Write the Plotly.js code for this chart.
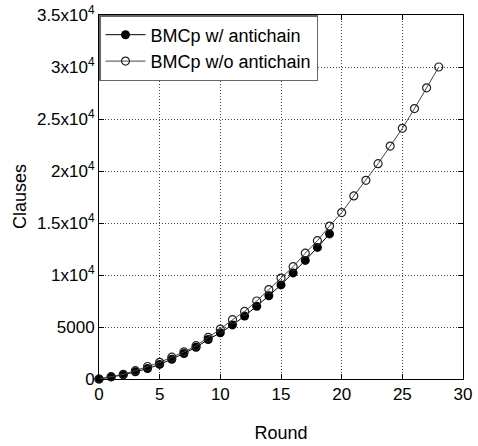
<!DOCTYPE html>
<html><head><meta charset="utf-8">
<script src="https://cdn.plot.ly/plotly-3.0.1.min.js"></script>
<style>html,body{margin:0;padding:0;background:#fff}#chart{width:478px;height:446px}</style>
</head><body><div id="chart"></div>
<script>
var roundsWith = [0,1,2,3,4,5,6,7,8,9,10,11,12,13,14,15,16,17,18,19];
var clausesWith = [0,200,400,700,1000,1400,1900,2450,3050,3800,4450,5200,6050,7000,8000,9050,10200,11400,12650,13950];
var roundsWithout = [0,1,2,3,4,5,6,7,8,9,10,11,12,13,14,15,16,17,18,19,20,21,22,23,24,25,26,27,28];
var clausesWithout = [0,220,450,800,1200,1600,2100,2600,3200,4000,4800,5700,6500,7500,8600,9700,10800,12100,13300,14700,16000,17600,19100,20700,22400,24100,26000,28000,30000];
var yTickVals = [0,5000,10000,15000,20000,25000,30000,35000];
var yTickText = ['0','5000','1x10<sup>4</sup>','1.5x10<sup>4</sup>','2x10<sup>4</sup>','2.5x10<sup>4</sup>','3x10<sup>4</sup>','3.5x10<sup>4</sup>'];
var xTickVals = [0,5,10,15,20,25,30];
var seriesNames = ['BMCp w/ antichain','BMCp w/o antichain'];
var xTitle = 'Round';
var yTitle = 'Clauses';

var font = 'Liberation Sans, Arial, sans-serif';
var traces = [
  {x: roundsWith, y: clausesWith, name: seriesNames[0], mode: 'lines+markers',
   line: {color: '#000', width: 1}, marker: {symbol: 'circle', size: 9, color: '#000'}, cliponaxis: false},
  {x: roundsWithout, y: clausesWithout, name: seriesNames[1], mode: 'lines+markers',
   line: {color: '#444', width: 1}, marker: {symbol: 'circle-open', size: 8, color: '#222', line: {width: 1.2}}, cliponaxis: false}
];
var layout = {
  width: 478, height: 446,
  margin: {l: 99, r: 15, t: 15, b: 67},
  paper_bgcolor: '#fff', plot_bgcolor: '#fff',
  font: {family: font, color: '#000', size: 17},
  showlegend: true,
  legend: {x: 0, y: 1, xanchor: 'left', yanchor: 'top', bgcolor: '#fff', bordercolor: '#666', borderwidth: 1.5,
           font: {family: font, size: 18}, tracegroupgap: 0, itemwidth: 40},
  xaxis: {range: [0, 30], tickvals: xTickVals, ticks: 'inside', ticklen: 5, tickcolor: '#000',
          showline: true, linecolor: '#000', linewidth: 1, mirror: 'ticks',
          showgrid: true, gridcolor: '#444', griddash: '1px,2px', gridwidth: 1, zeroline: false,
          tickfont: {size: 17}, title: {text: xTitle, font: {size: 18}, standoff: 22}},
  yaxis: {range: [0, 35000], tickvals: yTickVals, ticktext: yTickText, ticks: 'inside', ticklen: 5, tickcolor: '#000',
          showline: true, linecolor: '#000', linewidth: 1, mirror: 'ticks',
          showgrid: true, gridcolor: '#444', griddash: '1px,2px', gridwidth: 1, zeroline: false,
          tickfont: {size: 17}},
  annotations: [{text: yTitle, textangle: -90, xref: 'paper', yref: 'paper',
                 x: (20 - 99) / 364, y: 0.5, xanchor: 'center', yanchor: 'middle', showarrow: false,
                 font: {family: font, size: 18, color: '#000'}}]
};
Plotly.newPlot('chart', traces, layout, {displayModeBar: false, staticPlot: true});
</script></body></html>
